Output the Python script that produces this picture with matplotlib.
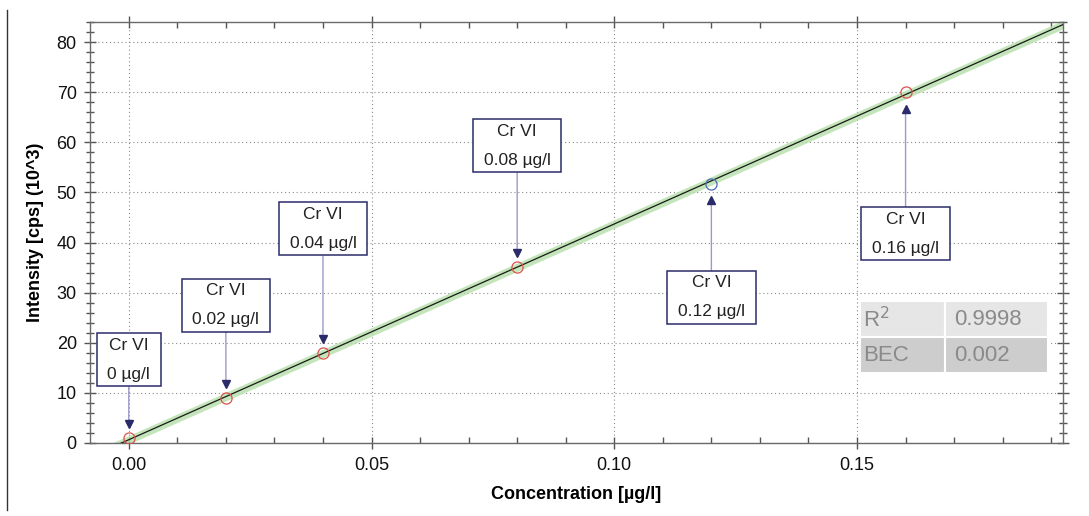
import matplotlib.pyplot as plt
import numpy as np
from matplotlib.lines import Line2D
from matplotlib.ticker import MultipleLocator

plt.rcParams['font.family'] = ['Liberation Sans', 'DejaVu Sans']

# Calibration standards
conc = [0.00, 0.02, 0.04, 0.08, 0.12, 0.16]
intensity = [1.0, 9.0, 17.9, 35.1, 51.7, 70.0]
marker_colors = ['#d9534f', '#d9534f', '#d9534f', '#d9534f', '#4a6cb3', '#d9534f']
labels = ['Cr VI\n0 µg/l', 'Cr VI\n0.02 µg/l', 'Cr VI\n0.04 µg/l',
          'Cr VI\n0.08 µg/l', 'Cr VI\n0.12 µg/l', 'Cr VI\n0.16 µg/l']
label_y = [16.6, 27.5, 42.7, 59.3, 29.1, 41.7]

stats_names = ['R$^2$', 'BEC']
stats_values = ['0.9998', '0.002']

navy = '#2b2b6b'
arrow_line = '#9a9ac8'

fig = plt.figure(figsize=(10.89, 5.16), dpi=100)
ax = fig.add_axes([0.0826, 0.1415, 0.8934, 0.8159])

xmin, xmax = -0.008, 0.1924
ax.set_xlim(xmin, xmax)
ax.set_ylim(0, 84)

# regression line with confidence band
slope, intercept = np.polyfit(conc, intensity, 1)
xs = np.linspace(xmin, xmax, 200)
fit = slope * xs + intercept
ax.fill_between(xs, fit - 0.85, fit + 0.85, color='#b5dfa8', alpha=0.8, lw=0, zorder=2)
ax.plot(xs, fit, color='#1a1a1a', lw=0.9, zorder=3)

for x, y, c in zip(conc, intensity, marker_colors):
    ax.plot(x, y, 'o', mfc='none', mec=c, ms=8, mew=0.9, zorder=4)

# annotation boxes with arrows
for x, y, lab, ly in zip(conc, intensity, labels, label_y):
    down = ly > y
    tip = y + 2.8 if down else y - 3.3
    ax.annotate(lab, xy=(x, tip), xytext=(x, ly), ha='center', va='center',
                fontsize=12.5, color='#222222', linespacing=2.2,
                bbox=dict(boxstyle='square,pad=0.62', mutation_aspect=0.4,
                          fc='white', ec=navy, lw=1.1),
                arrowprops=dict(arrowstyle='-', color=arrow_line, lw=1.0,
                                shrinkA=0, shrinkB=0),
                zorder=5)
    ax.plot(x, tip, marker='v' if down else '^', color=navy, ms=6, zorder=6,
            mec=navy)

# statistics table
tbl = ax.table(cellText=[[n, v] for n, v in zip(stats_names, stats_values)],
               bbox=[0.7914, 0.166, 0.1932, 0.171], cellLoc='left')
tbl.auto_set_font_size(False)
tbl.set_fontsize(16)
for (r, c), cell in tbl.get_celld().items():
    cell.set_facecolor('#e6e6e6' if r == 0 else '#cdcdcd')
    cell.set_edgecolor('white')
    cell.set_linewidth(1.5)
    cell.get_text().set_color('#8a8a8a')
    if c == 0:
        cell.set_width(0.0874)
        cell.PAD = 0.04
    else:
        cell.set_width(0.1058)
        cell.PAD = 0.09
tbl.set_zorder(7)

# axes styling
ax.xaxis.set_major_locator(MultipleLocator(0.05))
ax.xaxis.set_minor_locator(MultipleLocator(0.01))
ax.yaxis.set_major_locator(MultipleLocator(10))
ax.yaxis.set_minor_locator(MultipleLocator(2))
ax.xaxis.set_major_formatter(plt.FormatStrFormatter('%.2f'))
ax.grid(True, which='major', color='#8a8a8a', ls=(0, (1, 2.5)), lw=0.8)
ax.set_axisbelow(True)

ax.tick_params(axis='both', which='both', colors='#555555', labelcolor='#111111',
               labelsize=13, width=1.0, top=True, right=True)
ax.tick_params(axis='y', which='major', direction='inout', length=9, pad=5)
ax.tick_params(axis='y', which='minor', direction='inout', length=6)
ax.tick_params(axis='x', which='major', direction='inout', length=8, pad=6)
ax.tick_params(axis='x', which='minor', direction='in', length=4)

for sp in ax.spines.values():
    sp.set_color('#6a6a6a')
    sp.set_linewidth(1.0)

ax.set_xlabel('Concentration [µg/l]', fontsize=13, fontweight='bold', labelpad=9)
ax.set_ylabel('Intensity [cps] (10^3)', fontsize=13, fontweight='bold', labelpad=9)

# thin border line at left of figure
fig.add_artist(Line2D([0.0065, 0.0065], [0.012, 0.98], color='#333333', lw=1.0))

fig.savefig('out.png', dpi=100)
